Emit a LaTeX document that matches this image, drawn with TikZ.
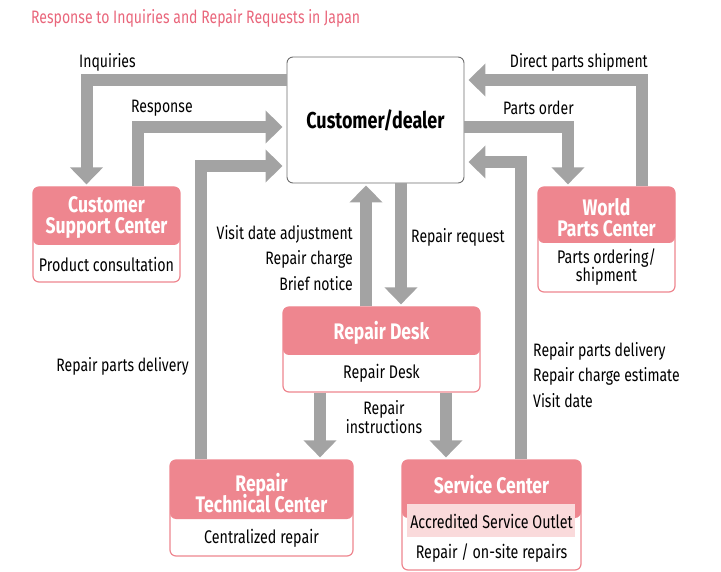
\documentclass[tikz,border=0pt]{standalone}
\usepackage{fontspec}
\setmainfont{Fira Sans}[FakeStretch=0.78]
\usetikzlibrary{arrows.meta,calc}
\definecolor{flowgray}{HTML}{A3A3A3}
\definecolor{hdrpink}{HTML}{EE868F}
\definecolor{titlepink}{HTML}{E9667B}
\definecolor{bandpink}{HTML}{FADADB}
\definecolor{framegray}{HTML}{6E6E6E}
% keep multi-line node texts at their exact baseline distance
\setlength{\lineskiplimit}{-100pt}
\begin{document}
\begin{tikzpicture}[x=1pt,y=-1pt,
  lbl/.style={inner sep=0pt,font=\fontsize{18}{25.5}\selectfont,text=black},
  hdrtxt/.style={inner sep=0pt,align=center,text=white,
    font=\fontsize{22.5}{21}\selectfont\bfseries},
  bodytxt/.style={inner sep=0pt,align=center,text=black,font=\fontsize{18.3}{18.5}\selectfont},
  unitbox/.style={draw=hdrpink,line width=1.2pt,fill=white,rounded corners=6pt,
    inner sep=0pt,
    path picture={\fill[hdrpink] (path picture bounding box.north west)
      rectangle ([yshift=-#1]path picture bounding box.north east);}},
  flow/.style={draw=flowgray,line width=12pt,line cap=butt,line join=miter,
    -{Triangle[width=32pt 0 0,length=17pt 0 0]}}
]
\useasboundingbox (0,0) rectangle (721,572);

% heading
\node[anchor=west,inner sep=0pt,text=titlepink,font=\fontsize{18}{20}\selectfont]
  (title) at (31,18) {Response to Inquiries and Repair Requests in Japan};

% central party
\node[draw=framegray,line width=0.9pt,fill=white,rounded corners=6pt,
  minimum width=177pt,minimum height=126pt,inner sep=0pt,
  font=\fontsize{23}{25}\selectfont\bfseries] (cust) at (375.5,120) {Customer/dealer};

% organisation boxes (outline with pink header band)
\node[unitbox=58pt,minimum width=147pt,minimum height=95pt] (csc) at (106.5,234.5) {};
\node[unitbox=56pt,minimum width=137pt,minimum height=105pt] (wpc) at (606.5,239.5) {};
\node[unitbox=48pt,minimum width=197pt,minimum height=85pt] (rd) at (381.5,349.5) {};
\node[unitbox=59pt,minimum width=183pt,minimum height=96pt] (rtc) at (261.5,508) {};
\node[unitbox=58pt,minimum width=179pt,minimum height=110pt] (sc) at (491.5,515) {};
\fill[bandpink] (407,504) rectangle (575,537);

% box texts
\node[hdrtxt] (cscT) at (106.5,218) {Customer\\Support Center};
\node[bodytxt] (cscB) at (106.5,264) {Product consultation};
\node[hdrtxt] (wpcT) at (606.5,218) {World\\Parts Center};
\node[bodytxt] (wpcB) at (606.5,267) {Parts ordering/\\shipment};
\node[hdrtxt] (rdT) at (381.5,333) {Repair Desk};
\node[bodytxt] (rdB) at (381.5,373) {Repair Desk};
\node[hdrtxt] (rtcT) at (261.5,493) {Repair\\Technical Center};
\node[bodytxt] (rtcB) at (261.5,538) {Centralized repair};
\node[hdrtxt] (scT) at (491.5,485) {Service Center};
\node[bodytxt] (scA) at (491.5,521) {Accredited Service Outlet};
\node[bodytxt] (scB) at (491.5,553) {Repair / on-site repairs};

% connectors
\draw[flow] ([yshift=40pt]cust.west) -| ([xshift=-20pt,yshift=2pt]csc.north);
\draw[flow] ([xshift=31.5pt]csc.north) |- ([xshift=-4pt,yshift=-7pt]cust.west);
\draw[flow] ([xshift=-60.5pt]rtc.north) |- ([xshift=-4pt,yshift=-46pt]cust.west);
\draw[flow] ([xshift=25.5pt]cust.south) -- ([xshift=19.5pt,yshift=2pt]rd.north);
\draw[flow] ([xshift=-15.5pt]rd.north) -- ([xshift=-9.5pt,yshift=-2pt]cust.south);
\draw[flow] ([xshift=-61.5pt]rd.south) -- ([xshift=58.5pt,yshift=2pt]rtc.north);
\draw[flow] ([xshift=64.5pt]rd.south) -- ([xshift=-45.5pt,yshift=2pt]sc.north);
\draw[flow] ([xshift=29pt]sc.north) |- ([xshift=4pt,yshift=-42pt]cust.east);
\draw[flow] ([yshift=-7pt]cust.east) -| ([xshift=-38.5pt,yshift=2pt]wpc.north);
\draw[flow] ([xshift=35pt]wpc.north) |- ([xshift=4pt,yshift=40pt]cust.east);

% connector labels
\node[lbl,anchor=west] (lInq) at (79,62) {Inquiries};
\node[lbl,anchor=west] (lResp) at (131,108) {Response};
\node[lbl,anchor=east] (lDirect) at (648,62) {Direct parts shipment};
\node[lbl,anchor=west] (lOrder) at (503,108) {Parts order};
\node[lbl,anchor=east] (lDelivL) at (189,366) {Repair parts delivery};
\node[lbl,anchor=east,align=right] (lVisit) at (353,258) {Visit date adjustment\\Repair charge\\Brief notice};
\node[lbl,anchor=west] (lReq) at (411,237) {Repair request};
\node[lbl,align=center,font=\fontsize{18}{19}\selectfont] (lInstr) at (384,417) {Repair\\instructions};
\node[lbl,anchor=west,align=left] (lDelivR) at (533,375) {Repair parts delivery\\Repair charge estimate\\Visit date};
\end{tikzpicture}
\end{document}
